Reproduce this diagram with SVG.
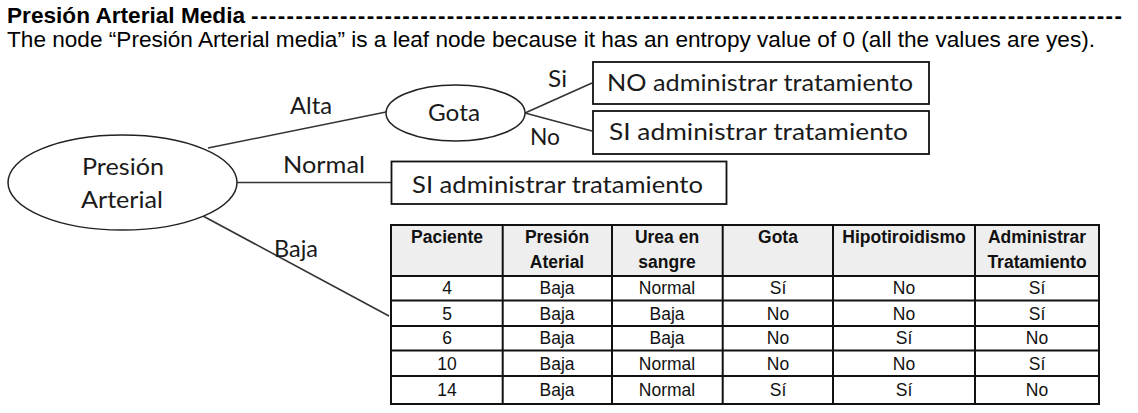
<svg xmlns="http://www.w3.org/2000/svg" width="1138" height="413" viewBox="0 0 1138 413">
<style>
.hd{font-family:"Liberation Sans",Arial,sans-serif;font-size:22.5px;fill:#000}
.b{font-weight:bold}
.lb{font-family:Lato,"Open Sans",sans-serif;font-size:23px;fill:#1a1a1a}
.nd{fill:#fff;stroke:#222;stroke-width:1.5}
.bx{fill:#fff;stroke:#111;stroke-width:1.8}
.cn{stroke:#333;stroke-width:1.6;fill:none}
.tc{font-family:"Liberation Sans",Arial,sans-serif;font-size:17.5px;fill:#111;text-anchor:middle}
.th{font-weight:bold}
.grid{stroke:#111;stroke-width:2;fill:none}
</style>
<rect width="1138" height="413" fill="#fff"/>
<g id="title">
<text class="hd b" x="7" y="23" textLength="238" lengthAdjust="spacingAndGlyphs">Presión Arterial Media</text>
<text class="hd b" x="251" y="23" textLength="871" lengthAdjust="spacing">--------------------------------------------------------------------------------------------------</text>
<text class="hd" x="7" y="47" textLength="1088" lengthAdjust="spacingAndGlyphs">The node “Presión Arterial media” is a leaf node because it has an entropy value of 0 (all the values are yes).</text>
</g>
<g id="connectors">
<line class="cn" x1="208" y1="148" x2="386" y2="112"/>
<line class="cn" x1="237" y1="182.5" x2="391" y2="182.5"/>
<line class="cn" x1="203" y1="216" x2="389" y2="316"/>
<line class="cn" x1="525" y1="113" x2="592" y2="83"/>
<line class="cn" x1="525" y1="113" x2="592" y2="131"/>
<text class="lb" x="311" y="114" text-anchor="middle" textLength="42" lengthAdjust="spacingAndGlyphs">Alta</text>
<text class="lb" x="324" y="172.5" text-anchor="middle" textLength="82" lengthAdjust="spacingAndGlyphs">Normal</text>
<text class="lb" x="296" y="256.5" text-anchor="middle" textLength="44" lengthAdjust="spacingAndGlyphs">Baja</text>
<text class="lb" x="557.5" y="87" text-anchor="middle" textLength="19" lengthAdjust="spacingAndGlyphs">Si</text>
<text class="lb" x="545" y="145" text-anchor="middle" textLength="30" lengthAdjust="spacingAndGlyphs">No</text>
</g>
<g id="node-presion">
<ellipse class="nd" cx="122.5" cy="182.5" rx="114.5" ry="47.5"/>
<text class="lb" x="123" y="175" text-anchor="middle" textLength="82" lengthAdjust="spacingAndGlyphs">Presión</text>
<text class="lb" x="122" y="208" text-anchor="middle" textLength="82" lengthAdjust="spacingAndGlyphs">Arterial</text>
</g>
<g id="node-gota">
<ellipse class="nd" cx="455.5" cy="113" rx="69.5" ry="28"/>
<text class="lb" x="454" y="120.5" text-anchor="middle" textLength="52" lengthAdjust="spacingAndGlyphs">Gota</text>
</g>
<g id="leaf-no">
<rect class="bx" x="593" y="62" width="336" height="42"/>
<text class="lb" x="760" y="90.5" text-anchor="middle" textLength="306" lengthAdjust="spacingAndGlyphs">NO administrar tratamiento</text>
</g>
<g id="leaf-si-gota">
<rect class="bx" x="593" y="111" width="336" height="43"/>
<text class="lb" x="758.5" y="140" text-anchor="middle" textLength="299" lengthAdjust="spacingAndGlyphs">SI administrar tratamiento</text>
</g>
<g id="leaf-si-normal">
<rect class="bx" x="391.5" y="161.5" width="335" height="42.5"/>
<text class="lb" x="557.5" y="192.5" text-anchor="middle" textLength="291" lengthAdjust="spacingAndGlyphs">SI administrar tratamiento</text>
</g>
<g id="table-baja">
<rect x="391" y="225" width="708" height="51" fill="#eeeeee"/>
<rect x="391" y="276" width="708" height="128" fill="#fff"/>
<rect class="grid" x="391" y="225" width="708" height="179"/>
<path class="grid" d="M502.7 225V404M612 225V404M722.7 225V404M833 225V404M975 225V404M391 276H1099M391 300.5H1099M391 326H1099M391 350.5H1099M391 376H1099"/>
<g class="tc th">
<text x="447" y="242.7">Paciente</text>
<text x="557" y="242.7">Presión</text><text x="557" y="268.3">Aterial</text>
<text x="667" y="242.7">Urea en</text><text x="667" y="268.3">sangre</text>
<text x="778" y="242.7">Gota</text>
<text x="904" y="242.7">Hipotiroidismo</text>
<text x="1037" y="242.7">Administrar</text><text x="1037" y="268.3">Tratamiento</text>
</g>
<g class="tc">
<text x="447" y="294.3">4</text><text x="557" y="294.3">Baja</text><text x="667" y="294.3">Normal</text><text x="778" y="294.3">Sí</text><text x="904" y="294.3">No</text><text x="1037" y="294.3">Sí</text>
<text x="447" y="319.5">5</text><text x="557" y="319.5">Baja</text><text x="667" y="319.5">Baja</text><text x="778" y="319.5">No</text><text x="904" y="319.5">No</text><text x="1037" y="319.5">Sí</text>
<text x="447" y="343.5">6</text><text x="557" y="343.5">Baja</text><text x="667" y="343.5">Baja</text><text x="778" y="343.5">No</text><text x="904" y="343.5">Sí</text><text x="1037" y="343.5">No</text>
<text x="447" y="370">10</text><text x="557" y="370">Baja</text><text x="667" y="370">Normal</text><text x="778" y="370">No</text><text x="904" y="370">No</text><text x="1037" y="370">Sí</text>
<text x="447" y="396">14</text><text x="557" y="396">Baja</text><text x="667" y="396">Normal</text><text x="778" y="396">Sí</text><text x="904" y="396">Sí</text><text x="1037" y="396">No</text>
</g>
</g>
</svg>
